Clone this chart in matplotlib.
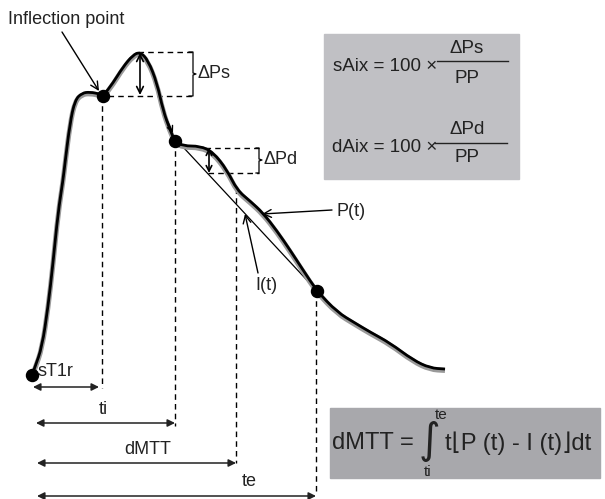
import matplotlib
matplotlib.use("Agg")
import matplotlib.pyplot as plt
from matplotlib.patches import Rectangle, FancyArrowPatch, PathPatch
from matplotlib.path import Path

plt.rcParams['font.family'] = ['Liberation Sans', 'DejaVu Sans']

# Pressure waveform (x = time, y = drawing height, downward)
t_curve = [32, 35, 42, 48, 53, 58, 63, 65, 70, 75, 82, 90, 100, 103, 113, 123, 133, 140,
           148, 157, 163, 170, 175, 183, 200, 213, 227, 237, 250, 263, 277, 290, 303,
           317, 337, 355, 370, 390, 413, 430, 445]
p_curve = [375, 367, 347, 307, 263, 213, 180, 163, 123, 100, 93, 92, 94, 96, 83, 67, 55, 52,
           60, 83, 110, 130, 141, 146, 146, 152, 170, 190, 201, 213, 231, 250, 270,
           291, 312, 323, 332, 343, 360, 368, 369]

# key points
key_t = [32, 103, 175, 317]
key_p = [375, 96, 141, 291]
# time markers (end x of the bracket arrows) and their rows
marker_end = [99, 175, 236, 316]
marker_row = [387, 423, 463, 496]
marker_labels = ['sT1r', 'ti', 'dMTT', 'te']
label_pos = [(37, 372), (103, 410), (148, 450), (249, 481)]

fig = plt.figure(figsize=(6.05, 4.99), dpi=100)
ax = fig.add_axes([0, 0, 1, 1])
ax.set_xlim(0, 605)
ax.set_ylim(499, 0)
ax.axis('off')


def smooth_path(xs, ys):
    """Quadratic Bezier rendering through segment midpoints (drawing only)."""
    pts = list(zip(xs, ys))
    verts = [pts[0]]
    codes = [Path.MOVETO]
    for i in range(1, len(pts) - 1):
        mx = (pts[i][0] + pts[i + 1][0]) / 2
        my = (pts[i][1] + pts[i + 1][1]) / 2
        verts += [pts[i], (mx, my)]
        codes += [Path.CURVE3, Path.CURVE3]
    verts.append(pts[-1])
    codes.append(Path.LINETO)
    return Path(verts, codes)


# gray boxes
ax.add_patch(Rectangle((324, 34), 195, 145, color='#c0c0c4', zorder=0))
ax.add_patch(Rectangle((330, 408), 270, 70, color='#a8a8ac', zorder=0))

# tangent I(t)
ax.plot([170, 317], [133, 291], color='black', lw=0.9, zorder=2)

# curve with gray shadow
ax.add_patch(PathPatch(smooth_path(t_curve, [p + 1.5 for p in p_curve]),
                       fill=False, edgecolor='#9a9a9a', lw=3.6, zorder=2))
ax.add_patch(PathPatch(smooth_path(t_curve, p_curve),
                       fill=False, edgecolor='black', lw=2.0, zorder=3))

# dots
ax.scatter(key_t, key_p, s=75, color='black', zorder=5)

dash = dict(color='black', lw=1.0, linestyle=(0, (4, 3)), zorder=1)
# vertical dashed lines
tops = [96, 141, 188, 291]
bottoms = [388, 426, 463, 494]
vx = [102, 175, 236, 316]
for x, y0, y1 in zip(vx, tops, bottoms):
    ax.plot([x, x], [y0, y1], **dash)

# horizontal double arrows
starts = [33, 36, 37, 37]
for x0, x1, y in zip(starts, marker_end, marker_row):
    ax.add_patch(FancyArrowPatch((x0, y), (x1, y), arrowstyle='<|-|>',
                                 mutation_scale=11, lw=1.1, color='#222222',
                                 shrinkA=0, shrinkB=0, zorder=4))
for lab, (x, y) in zip(marker_labels, label_pos):
    ha = 'left' if lab == 'sT1r' else 'center'
    ax.text(x, y, lab, fontsize=13, ha=ha, va='center', color='#222222')

# ΔPs
ax.plot([138, 193], [52, 52], **dash)
ax.plot([108, 193], [96, 96], **dash)
ax.plot([189, 193, 193, 196, 193, 193, 189], [52, 52, 73, 74, 75, 96, 96],
        color='black', lw=0.9)
ax.text(197, 73, 'ΔPs', fontsize=13, ha='left', va='center', color='#222222')
ax.annotate('', xy=(140, 53), xytext=(140, 95),
            arrowprops=dict(arrowstyle='<->', lw=1.2, color='black',
                            shrinkA=0, shrinkB=0, mutation_scale=12))

# ΔPd
ax.plot([205, 259], [148, 148], **dash)
ax.plot([208, 259], [173, 173], **dash)
ax.plot([256, 259, 259, 262, 259, 259, 256], [148, 148, 159, 160, 161, 173, 173],
        color='black', lw=0.9)
ax.text(263, 159, 'ΔPd', fontsize=13, ha='left', va='center', color='#222222')
ax.annotate('', xy=(209, 148), xytext=(209, 173),
            arrowprops=dict(arrowstyle='<->', lw=1.2, color='black',
                            shrinkA=0, shrinkB=0, mutation_scale=10))

# small arrow toward the second point
ax.annotate('', xy=(173, 133), xytext=(166, 118),
            arrowprops=dict(arrowstyle='->', lw=1.0, color='black',
                            shrinkA=0, shrinkB=0, mutation_scale=10))

# Inflection point
ax.text(8, 19, 'Inflection point', fontsize=13, ha='left', va='center', color='#222222')
ax.annotate('', xy=(99, 91), xytext=(62, 32),
            arrowprops=dict(arrowstyle='->', lw=1.0, color='black',
                            shrinkA=0, shrinkB=0, mutation_scale=14))

# P(t) and I(t)
ax.text(337, 211, 'P(t)', fontsize=13, ha='left', va='center', color='#222222')
ax.annotate('', xy=(262, 214), xytext=(332, 210),
            arrowprops=dict(arrowstyle='->', lw=1.0, color='black',
                            shrinkA=0, shrinkB=0, mutation_scale=14))
ax.text(266, 285, 'I(t)', fontsize=13, ha='center', va='center', color='#222222')
ax.annotate('', xy=(245, 214), xytext=(258, 273),
            arrowprops=dict(arrowstyle='->', lw=1.0, color='black',
                            shrinkA=0, shrinkB=0, mutation_scale=14))

# formulas box 1
fc = '#222222'
ax.text(333, 66, 'sAix = 100 ×', fontsize=13.5, ha='left', va='center', color=fc)
ax.plot([437, 508], [61, 61], color=fc, lw=1.0)
ax.text(467, 48, 'ΔPs', fontsize=13.5, ha='center', va='center', color=fc)
ax.text(467, 78, 'PP', fontsize=13.5, ha='center', va='center', color=fc)
ax.text(332, 147, 'dAix = 100 ×', fontsize=13.5, ha='left', va='center', color=fc)
ax.plot([435, 507], [143, 143], color=fc, lw=1.0)
ax.text(467, 129, 'ΔPd', fontsize=13.5, ha='center', va='center', color=fc)
ax.text(467, 158, 'PP', fontsize=13.5, ha='center', va='center', color=fc)

# formula box 2
ax.text(332, 443, 'dMTT =', fontsize=17, ha='left', va='center', color=fc)
ax.text(429, 441, '∫', fontsize=30, ha='center', va='center', color=fc,
        family=['DejaVu Sans'])
ax.text(441, 415, 'te', fontsize=11, ha='center', va='center', color=fc)
ax.text(428, 472, 'ti', fontsize=11, ha='center', va='center', color=fc)
ax.text(445, 443, 't⌊P (t) - I (t)⌋dt', fontsize=17, ha='left', va='center', color=fc)

fig.savefig('out.png', dpi=100)
